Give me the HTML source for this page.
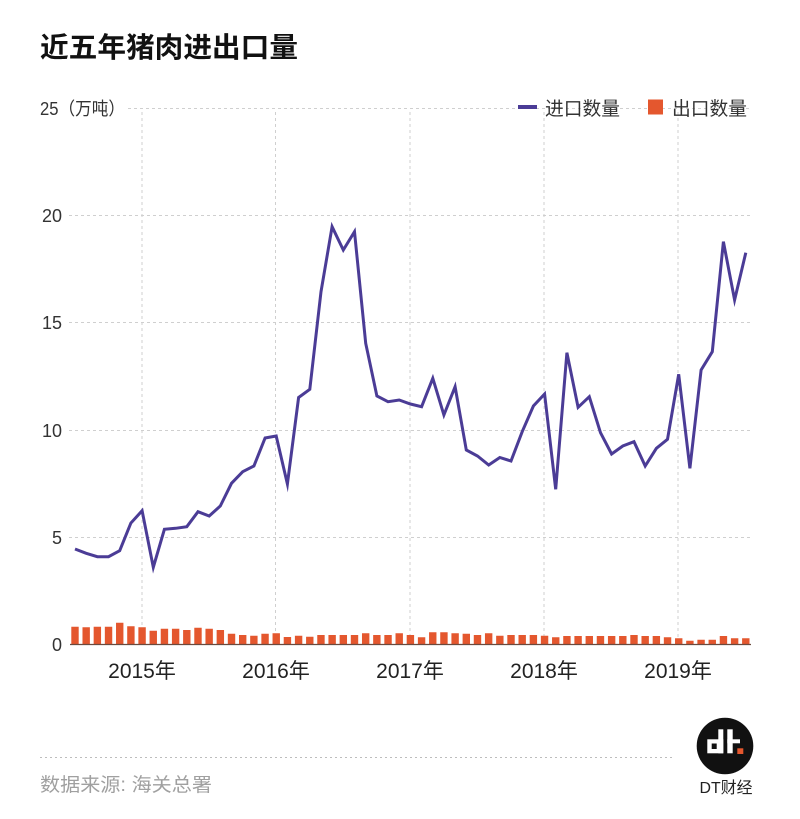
<!DOCTYPE html>
<html>
<head>
<meta charset="utf-8">
<style>
html,body{margin:0;padding:0;background:#fff;}
body{width:800px;height:814px;overflow:hidden;}
svg text{font-family:"Liberation Sans","Noto Sans CJK SC",sans-serif;}
</style>
</head>
<body>
<svg width="800" height="814" viewBox="0 0 800 814" xmlns="http://www.w3.org/2000/svg">
<rect width="800" height="814" fill="#fff"/>
<text x="40" y="57" font-size="28" font-weight="bold" fill="#111" textLength="258" lengthAdjust="spacingAndGlyphs">近五年猪肉进出口量</text>

<g stroke="#cfcfcf" stroke-width="1" stroke-dasharray="3,3" fill="none">
<line x1="128" y1="108.5" x2="751" y2="108.5"/>
<line x1="69" y1="215.5" x2="751" y2="215.5"/>
<line x1="69" y1="322.5" x2="751" y2="322.5"/>
<line x1="69" y1="430.5" x2="751" y2="430.5"/>
<line x1="69" y1="537.5" x2="751" y2="537.5"/>
<line x1="142" y1="112" x2="142" y2="644"/>
<line x1="275.5" y1="112" x2="275.5" y2="644"/>
<line x1="410" y1="112" x2="410" y2="644"/>
<line x1="544" y1="112" x2="544" y2="644"/>
<line x1="678" y1="112" x2="678" y2="644"/>
</g>

<g font-size="18" fill="#333">
<text x="40" y="115" textLength="85" lengthAdjust="spacingAndGlyphs">25（万吨）</text>
<text x="62" y="222" text-anchor="end">20</text>
<text x="62" y="329" text-anchor="end">15</text>
<text x="62" y="437" text-anchor="end">10</text>
<text x="62" y="544" text-anchor="end">5</text>
<text x="62" y="651" text-anchor="end">0</text>
</g>

<g font-size="21" fill="#222" text-anchor="middle">
<text x="142" y="678">2015年</text>
<text x="276" y="678">2016年</text>
<text x="410" y="678">2017年</text>
<text x="544" y="678">2018年</text>
<text x="678" y="678">2019年</text>
</g>

<path fill="#e4572e" d="M71.3 644v-17.3h7.4v17.3m3.78 0v-16.7h7.4v16.7m3.78 0v-17.3h7.4v17.3m3.78 0v-17.3h7.4v17.3m3.78 0v-21.3h7.4v21.3m3.78 0v-17.7h7.4v17.7m3.78 0v-16.7h7.4v16.7m3.78 0v-13.3h7.4v13.3m3.78 0v-15.3h7.4v15.3m3.78 0v-15.3h7.4v15.3m3.78 0v-14h7.4v14m3.78 0v-16.3h7.4v16.3m3.78 0v-15.3h7.4v15.3m3.78 0v-14h7.4v14m3.78 0v-10.3h7.4v10.3m3.78 0v-9h7.4v9m3.78 0v-8.3h7.4v8.3m3.78 0v-10.3h7.4v10.3m3.78 0v-10.7h7.4v10.7m3.78 0v-7h7.4v7m3.78 0v-8.3h7.4v8.3m3.78 0v-7.3h7.4v7.3m3.78 0v-9h7.4v9m3.78 0v-9h7.4v9m3.78 0v-9h7.4v9m3.78 0v-9h7.4v9m3.78 0v-10.7h7.4v10.7m3.78 0v-9h7.4v9m3.78 0v-9h7.4v9m3.78 0v-10.7h7.4v10.7m3.78 0v-9h7.4v9m3.78 0v-6.7h7.4v6.7m3.78 0v-11.7h7.4v11.7m3.78 0v-11.7h7.4v11.7m3.78 0v-10.7h7.4v10.7m3.78 0v-10.3h7.4v10.3m3.78 0v-9h7.4v9m3.78 0v-10.7h7.4v10.7m3.78 0v-8.3h7.4v8.3m3.78 0v-9h7.4v9m3.78 0v-9h7.4v9m3.78 0v-9h7.4v9m3.78 0v-8.3h7.4v8.3m3.78 0v-6.7h7.4v6.7m3.78 0v-8h7.4v8m3.78 0v-8h7.4v8m3.78 0v-8h7.4v8m3.78 0v-8h7.4v8m3.78 0v-8h7.4v8m3.78 0v-8h7.4v8m3.78 0v-9h7.4v9m3.78 0v-8h7.4v8m3.78 0v-8h7.4v8m3.78 0v-6.7h7.4v6.7m3.78 0v-5.7h7.4v5.7m3.78 0v-3.3h7.4v3.3m3.78 0v-4.3h7.4v4.3m3.78 0v-4.3h7.4v4.3m3.78 0v-8h7.4v8m3.78 0v-5.7h7.4v5.7m3.78 0v-5.7h7.4v5.7z"/>
<line x1="70" y1="644.5" x2="751" y2="644.5" stroke="#6b4a3e" stroke-width="1.2"/>

<polyline fill="none" stroke="#4b3c96" stroke-width="3" stroke-linejoin="miter" stroke-miterlimit="6" points="75,549 86.2,553.3 97.4,556.7 108.5,556.7 119.7,550.7 130.9,523 142.1,510.7 153.3,567.3 164.4,529.3 175.6,528.3 186.8,526.7 198,511.7 209.2,516 220.3,506 231.5,483.3 242.7,471.7 253.9,466 265.1,438 276.2,436 287.4,484 298.6,397.5 309.8,389.3 321,291.7 332.1,226.7 343.3,250 354.5,231.7 365.7,343.3 376.9,396 388,401.7 399.2,400 410.4,404 421.6,406.7 432.8,378.3 443.9,415 455.1,386.7 466.3,450 477.5,456 488.7,465 499.8,457.5 511,461 522.2,431.7 533.4,406 544.6,394 555.7,489.3 566.9,352.7 578.1,407.3 589.3,396.7 600.5,432.7 611.6,454 622.8,446 634,441.7 645.2,466 656.4,448.3 667.5,439.3 678.7,374.3 689.9,468.3 701.1,370 712.3,351.7 723.4,241.7 734.6,300 745.8,252.7"/>

<line x1="518" y1="107" x2="537" y2="107" stroke="#4b3c96" stroke-width="4"/>
<text x="545" y="115" font-size="19" fill="#333" textLength="75" lengthAdjust="spacingAndGlyphs">进口数量</text>
<rect x="648" y="99.5" width="15" height="15" fill="#e4572e"/>
<text x="672" y="115" font-size="19" fill="#333" textLength="75" lengthAdjust="spacingAndGlyphs">出口数量</text>

<line x1="40" y1="757.5" x2="673" y2="757.5" stroke="#bdbdbd" stroke-width="1" stroke-dasharray="2,3"/>
<text x="40" y="791" font-size="19" fill="#a0a0a0" textLength="172" lengthAdjust="spacingAndGlyphs">数据来源: 海关总署</text>

<circle cx="725" cy="746" r="28.3" fill="#111"/>
<g fill="#fff">
<rect x="707.3" y="739.3" width="16" height="14"/>
<rect x="718.3" y="729.3" width="5" height="24"/>
<rect x="727.3" y="729.3" width="5.4" height="24"/>
<rect x="727.3" y="739.3" width="12.7" height="4"/>
</g>
<rect x="711.7" y="743.5" width="5" height="5.5" fill="#111"/>
<rect x="737.3" y="748.3" width="6" height="5.7" fill="#e4572e"/>
<text x="726" y="793" font-size="16" fill="#222" text-anchor="middle" textLength="53" lengthAdjust="spacingAndGlyphs">DT财经</text>
</svg>
</body>
</html>
